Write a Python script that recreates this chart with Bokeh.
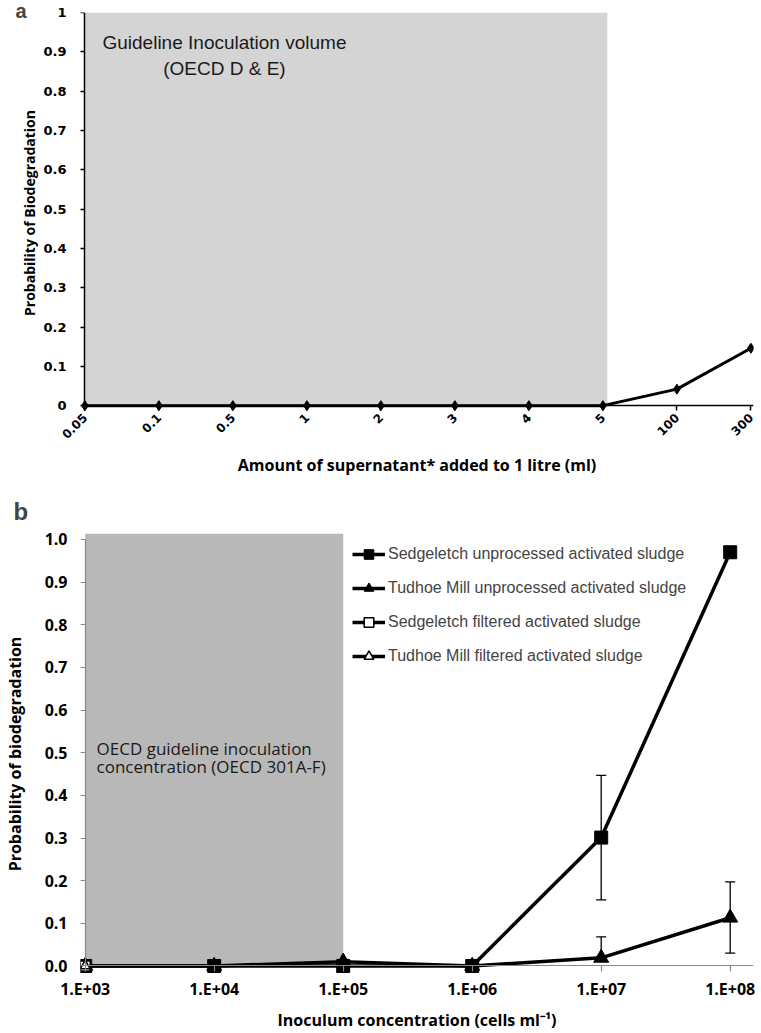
from bokeh.plotting import figure
from bokeh.models import (FixedTicker, Label, Legend, LegendItem, Whisker, ColumnDataSource,
                          TeeHead, Range1d, BoxAnnotation, PrintfTickFormatter, LinearAxis,
                          BasicTickFormatter)
from bokeh.layouts import column
from bokeh.embed import file_html
from bokeh.resources import INLINE

# ---------------- Panel a data ----------------
a_categories = ["0.05", "0.1", "0.5", "1", "2", "3", "4", "5", "100", "300"]
a_values = [0, 0, 0, 0, 0, 0, 0, 0, 0.042, 0.146]
a_y_ticks = [0, 0.1, 0.2, 0.3, 0.4, 0.5, 0.6, 0.7, 0.8, 0.9, 1]
a_shade_last_category = "5"

# ---------------- Panel b data ----------------
b_conc = [1e3, 1e4, 1e5, 1e6, 1e7, 1e8]
b_tick_labels = ["1.E+03", "1.E+04", "1.E+05", "1.E+06", "1.E+07", "1.E+08"]
sedge_unproc = [0, 0, 0, 0, 0.301, 0.970]
tudhoe_unproc = [0, 0, 0.010, 0, 0.019, 0.113]
sedge_filt_conc = [1e3]
sedge_filt = [0]
tudhoe_filt_conc = [1e3]
tudhoe_filt = [0]
sedge_err_conc = [1e7]
sedge_err_lo = [0.155]
sedge_err_hi = [0.447]
tudhoe_err_conc = [1e7, 1e8]
tudhoe_err_lo = [0.019, 0.030]
tudhoe_err_hi = [0.068, 0.197]
b_y_ticks = [0, 0.1, 0.2, 0.3, 0.4, 0.5, 0.6, 0.7, 0.8, 0.9, 1.0]
b_shade_from, b_shade_to = 1e3, 1e5

b_series_names = ["Sedgeletch unprocessed activated sludge",
                  "Tudhoe Mill unprocessed activated sludge",
                  "Sedgeletch filtered activated sludge",
                  "Tudhoe Mill filtered activated sludge"]

W = 761


def label_only(ax):
    ax.axis_line_color = None
    ax.major_tick_line_color = None
    ax.minor_tick_line_color = None
    ax.major_tick_in = 0
    ax.major_tick_out = 0


def line_only(ax, ticks, color, width):
    ax.axis_line_color = color
    ax.axis_line_width = width
    ax.major_tick_line_color = color
    ax.major_tick_line_width = width
    ax.minor_tick_line_color = None
    ax.formatter = BasicTickFormatter()
    ax.major_label_overrides = {t: "" for t in ticks}
    ax.major_label_standoff = 0
    ax.axis_label = None


# ======================= Panel a =======================
a_x = list(range(len(a_categories)))
pa = figure(width=W, height=486, output_backend="svg", toolbar_location=None,
            x_range=Range1d(-0.0595, 9.035), y_range=Range1d(-0.02, 1.0),
            min_border_left=80, min_border_right=8, min_border_top=12, min_border_bottom=73)
pa.outline_line_color = None
pa.xgrid.visible = False
pa.ygrid.visible = False

shade_end = a_categories.index(a_shade_last_category) + 0.06
pa.add_layout(BoxAnnotation(left=0, right=shade_end, bottom=0, top=1, fill_color="#d4d4d4",
                            fill_alpha=1, line_color=None, level="underlay"))

pa.line(a_x, a_values, line_color="black", line_width=3)
pa.scatter(a_x, a_values, marker="diamond", size=10, fill_color="black", line_color="black")

# label axes (at frame edges)
label_only(pa.xaxis[0])
pa.xaxis.ticker = FixedTicker(ticks=a_x)
pa.xaxis.major_label_overrides = {i: c for i, c in enumerate(a_categories)}
pa.xaxis.major_label_orientation = 0.785
pa.xaxis.major_label_text_font = "DejaVu Sans"
pa.xaxis.major_label_text_font_style = "bold"
pa.xaxis.major_label_text_font_size = "12px"
pa.xaxis.major_label_standoff = 2
pa.xaxis.axis_label = "Amount of supernatant* added to 1 litre (ml)"
pa.xaxis.axis_label_text_font = "Open Sans"
pa.xaxis.axis_label_text_font_style = "bold"
pa.xaxis.axis_label_text_font_size = "16px"
pa.xaxis.axis_label_standoff = 8

label_only(pa.yaxis[0])
pa.yaxis.ticker = FixedTicker(ticks=a_y_ticks)
pa.yaxis.formatter = PrintfTickFormatter(format="%.1f")
pa.yaxis.major_label_overrides = {0: "0", 1: "1"}
pa.yaxis.major_label_text_font = "DejaVu Sans"
pa.yaxis.major_label_text_font_style = "bold"
pa.yaxis.major_label_text_font_size = "13px"
pa.yaxis.major_label_standoff = 14
pa.yaxis.axis_label = "Probability of Biodegradation"
pa.yaxis.axis_label_text_font = "Open Sans"
pa.yaxis.axis_label_text_font_style = "bold"
pa.yaxis.axis_label_text_font_size = "14px"
pa.yaxis.axis_label_standoff = 1

for ax in (pa.xaxis, pa.yaxis):
    ax.major_label_text_color = "black"
    ax.axis_label_text_color = "black"

# line axes (drawn at the data zero)
xa_fix = LinearAxis(fixed_location=0, ticker=FixedTicker(ticks=a_x), bounds=(0, 9.035),
                    major_tick_out=5, major_tick_in=0)
line_only(xa_fix, a_x, "black", 1.5)
pa.add_layout(xa_fix, "below")
ya_fix = LinearAxis(fixed_location=0, ticker=FixedTicker(ticks=a_y_ticks), bounds=(0, 1),
                    major_tick_out=0, major_tick_in=5)
line_only(ya_fix, a_y_ticks, "black", 1.5)
pa.add_layout(ya_fix, "right")

pa.add_layout(Label(x=1.886, y=0.923, text="Guideline Inoculation volume", text_align="center",
                    text_baseline="alphabetic", text_font="Liberation Sans",
                    text_font_size="19px", text_color="#1a1a1a"))
pa.add_layout(Label(x=1.886, y=0.857, text="(OECD D & E)", text_align="center",
                    text_baseline="alphabetic", text_font="Liberation Sans",
                    text_font_size="19px", text_color="#1a1a1a"))

pa.title.text = "a"
pa.title.text_font = "Liberation Sans"
pa.title.text_font_style = "bold"
pa.title.text_font_size = "20px"
pa.title.align = "left"
pa.title.vertical_align = "top"
pa.title.offset = -65
pa.title.standoff = -22

# ======================= Panel b =======================
pb = figure(width=W, height=547, output_backend="svg", toolbar_location=None,
            x_axis_type="log", x_range=Range1d(10 ** 2.9636, 10 ** 8.1807),
            y_range=Range1d(-0.02, 1.014),
            min_border_left=80, min_border_right=8, min_border_top=46, min_border_bottom=58)
pb.outline_line_color = None
pb.xgrid.visible = False
pb.ygrid.visible = False

pb.add_layout(BoxAnnotation(left=b_shade_from, right=b_shade_to, bottom=0, top=1.014,
                            fill_color="#b8b8b8", fill_alpha=1, line_color=None, level="underlay"))

src_se = ColumnDataSource(dict(x=sedge_err_conc, lo=sedge_err_lo, hi=sedge_err_hi))
src_te = ColumnDataSource(dict(x=tudhoe_err_conc, lo=tudhoe_err_lo, hi=tudhoe_err_hi))
for s in (src_se, src_te):
    pb.add_layout(Whisker(source=s, base="x", lower="lo", upper="hi", line_color="black",
                          line_width=1.3,
                          upper_head=TeeHead(size=10, line_color="black", line_width=1.3),
                          lower_head=TeeHead(size=10, line_color="black", line_width=1.3)))

l1 = pb.line(b_conc, sedge_unproc, line_color="black", line_width=3.5)
m1 = pb.scatter(b_conc, sedge_unproc, marker="square", size=13, fill_color="black", line_color="black")
l2 = pb.line(b_conc, tudhoe_unproc, line_color="black", line_width=3.5)
m2 = pb.scatter(b_conc, tudhoe_unproc, marker="triangle", size=15, fill_color="black", line_color="black")
l3 = pb.line(sedge_filt_conc, sedge_filt, line_color="black", line_width=3.5)
m3 = pb.scatter(sedge_filt_conc, sedge_filt, marker="square", size=10, fill_color="white",
                line_color="black", line_width=1.5)
l4 = pb.line(tudhoe_filt_conc, tudhoe_filt, line_color="black", line_width=3.5)
m4 = pb.scatter(tudhoe_filt_conc, tudhoe_filt, marker="triangle", size=10, fill_color="white",
                line_color="black", line_width=1.5)

legend = Legend(items=[LegendItem(label=b_series_names[0], renderers=[l1, m1]),
                       LegendItem(label=b_series_names[1], renderers=[l2, m2]),
                       LegendItem(label=b_series_names[2], renderers=[l3, m3]),
                       LegendItem(label=b_series_names[3], renderers=[l4, m4])],
                location=(272, 306), border_line_color=None, background_fill_alpha=0,
                label_text_font="Liberation Sans", label_text_font_size="16px",
                glyph_width=33, glyph_height=24, label_height=24, spacing=10,
                padding=0, margin=0, label_standoff=3)
pb.add_layout(legend)

label_only(pb.xaxis[0])
pb.xaxis.ticker = FixedTicker(ticks=b_conc)
pb.xaxis.formatter = BasicTickFormatter()
pb.xaxis.major_label_overrides = {c: t for c, t in zip(b_conc, b_tick_labels)}
pb.xaxis.major_label_standoff = 3
pb.xaxis.axis_label = "Inoculum concentration (cells ml\u207b\u00b9)"
pb.xaxis.axis_label_standoff = 6

label_only(pb.yaxis[0])
pb.yaxis.ticker = FixedTicker(ticks=b_y_ticks)
pb.yaxis.formatter = PrintfTickFormatter(format="%.1f")
pb.yaxis.major_label_standoff = 13
pb.yaxis.axis_label = "Probability of biodegradation"
pb.yaxis.axis_label_standoff = 16

for ax in (pb.xaxis, pb.yaxis):
    ax.major_label_text_font = "Open Sans"
    ax.major_label_text_font_style = "bold"
    ax.major_label_text_font_size = "16px"
    ax.major_label_text_color = "black"
    ax.axis_label_text_font = "Open Sans"
    ax.axis_label_text_font_style = "bold"
    ax.axis_label_text_font_size = "16px"
    ax.axis_label_text_color = "black"

xb_fix = LinearAxis(fixed_location=0, ticker=FixedTicker(ticks=b_conc), bounds=(1e3, 10 ** 8.1807),
                    major_tick_out=0, major_tick_in=6)
line_only(xb_fix, b_conc, "#888888", 1.2)
pb.add_layout(xb_fix, "above")
yb_fix = LinearAxis(fixed_location=1e3, ticker=FixedTicker(ticks=b_y_ticks), bounds=(0, 1),
                    major_tick_out=0, major_tick_in=5)
line_only(yb_fix, b_y_ticks, "#888888", 1.2)
pb.add_layout(yb_fix, "right")

pb.add_layout(Label(x=10 ** 3.088, y=0.510, text="OECD guideline inoculation",
                    text_align="left", text_baseline="alphabetic", text_font="Open Sans",
                    text_font_size="17px", text_color="#1a1a1a"))
pb.add_layout(Label(x=10 ** 3.088, y=0.468, text="concentration (OECD 301A-F)",
                    text_align="left", text_baseline="alphabetic", text_font="Open Sans",
                    text_font_size="17px", text_color="#1a1a1a"))

pb.title.text = "b"
pb.title.text_font = "Liberation Sans"
pb.title.text_font_style = "bold"
pb.title.text_font_size = "24px"
pb.title.align = "left"
pb.title.offset = -67
pb.title.standoff = 18

layout = column(pa, pb)
open("out.html", "w").write(file_html(layout, INLINE))
